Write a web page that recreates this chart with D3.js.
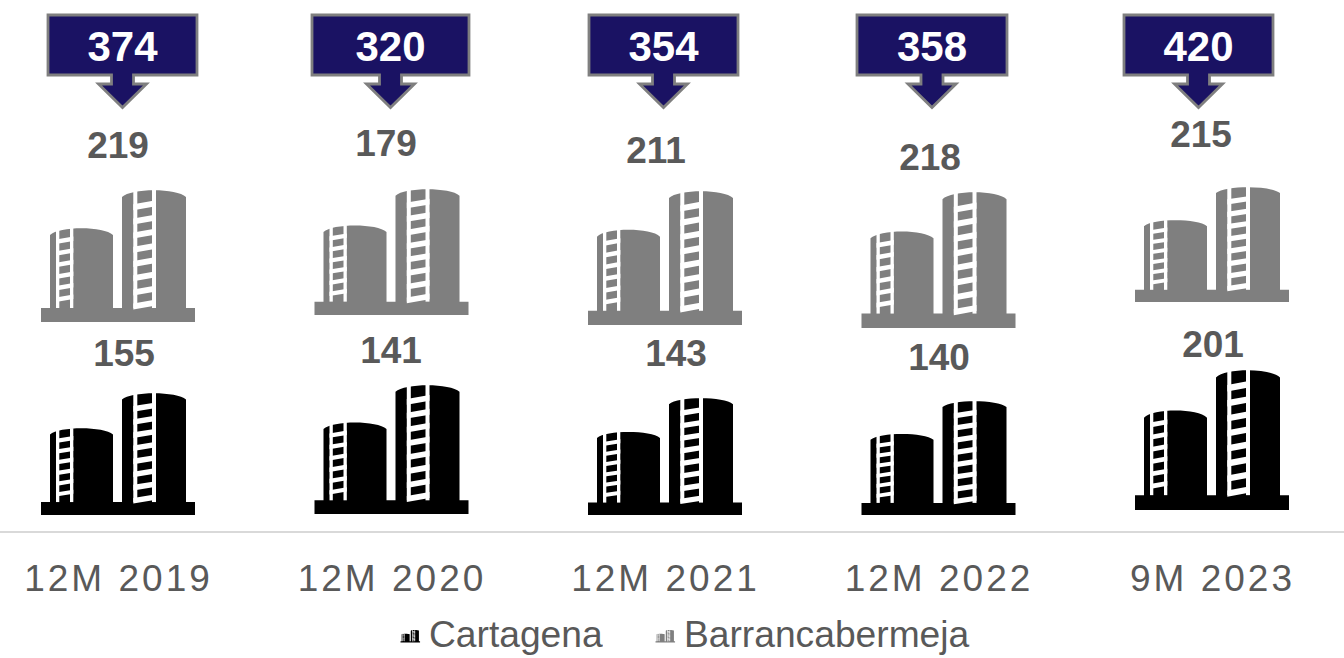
<!DOCTYPE html>
<html>
<head>
<meta charset="utf-8">
<script src="https://cdn.jsdelivr.net/npm/d3@7"></script>
<style>
  html, body { margin: 0; padding: 0; background: #fff; }
  svg { display: block; }
  text { font-family: "Liberation Sans", Arial, sans-serif; opacity: 0.999; }
</style>
</head>
<body>
<div id="viz"></div>
<script>
var periods = ['12M 2019', '12M 2020', '12M 2021', '12M 2022', '9M 2023'];
var totals = [374, 320, 354, 358, 420];
var barrancabermeja = [219, 179, 211, 218, 215];
var cartagena = [155, 141, 143, 140, 201];

// the icons in the picture are hand placed and do not follow the values,
// so their extents are read off the picture (px)
var barrancaTop = [190, 189, 191, 192, 187];
var barrancaBase = [322, 315, 325, 328, 302];
var cartagenaTop = [393, 385, 398, 401, 370];
var cartagenaBase = [515, 514, 515, 515, 510];

// same for the labels and callouts
var barrancaLabel = [{x:118,y:145},{x:386,y:143},{x:656,y:150},{x:930,y:157},{x:1201,y:134}];
var cartagenaLabel = [{x:124,y:353},{x:391,y:350},{x:676,y:353},{x:939,y:357},{x:1213,y:344}];
var calloutX = [122.5, 390.5, 663.5, 932, 1198.5];
var calloutHalf = [74.5, 78.5, 74.5, 75, 74.5];

var width = 1344,
    height = 658;

var svg = d3.select('#viz').append('svg')
  .attr('width', width)
  .attr('height', height);

var x = d3.scalePoint()
  .domain(periods)
  .range([118, 1212]);

// icon, 154 x 132
var defs = svg.append('defs');
var icon = defs.append('g').attr('id', 'tanks');

icon.append('path')
  .attr('fill', 'currentColor')
  .attr('d', 'M9,45 C18,36 63,36 72,45 V119 H9 Z M81,7 C90,-2 136,-2 145,7 V119 H81 Z M0,118 H154 V132 H0 Z');

function ladder(x0, x1, railW, top, bottom, step, rungH, rise){
  var rails = icon.append('g').attr('fill', '#fff');
  rails.append('rect').attr('x', x0).attr('y', top).attr('width', railW).attr('height', bottom - top);
  rails.append('rect').attr('x', x1).attr('y', top).attr('width', railW).attr('height', bottom - top);
  d3.range(top + step, bottom, step).forEach(function(y){
    rails.append('path')
      .attr('d', 'M' + x0 + ',' + y + ' L' + (x1 + railW) + ',' + (y - rise) +
        ' V' + (y - rise + rungH) + ' L' + x0 + ',' + (y + rungH) + ' Z');
  });
}
ladder(92.3, 111, 4, 0, 118, 14.2, 6, 4);
ladder(15, 29, 3.3, 38, 118, 11.6, 4.5, 3);

function drawTanks(cls, color, tops, bases){
  svg.selectAll('.' + cls)
    .data(periods)
    .enter()
    .append('use')
    .attr('class', cls)
    .attr('href', '#tanks')
    .style('color', color)
    .attr('transform', function(d, i){
      return 'translate(' + (x(d) - 77) + ',' + tops[i] + ') scale(1,' + ((bases[i] - tops[i]) / 132) + ')';
    });
}
drawTanks('barranca', '#7f7f7f', barrancaTop, barrancaBase);
drawTanks('cartagena', '#000', cartagenaTop, cartagenaBase);

function drawValues(values, pos){
  svg.selectAll(null)
    .data(values)
    .enter()
    .append('text')
    .attr('x', function(d, i){ return pos[i].x; })
    .attr('y', function(d, i){ return pos[i].y; })
    .attr('dy', '0.35em')
    .attr('text-anchor', 'middle')
    .attr('font-size', 37)
    .attr('font-weight', 'bold')
    .attr('fill', '#595959')
    .text(function(d){ return d; });
}
drawValues(barrancabermeja, barrancaLabel);
drawValues(cartagena, cartagenaLabel);

// total callouts
svg.selectAll('.callout')
  .data(totals)
  .enter()
  .append('path')
  .attr('class', 'callout')
  .attr('fill', '#1a1263')
  .attr('stroke', '#7f7f7f')
  .attr('stroke-width', 2.8)
  .attr('d', function(d, i){
    var c = calloutX[i], h = calloutHalf[i];
    return 'M' + (c - h) + ',15 H' + (c + h) + ' V75 H' + (c + 11) + ' V84 H' + (c + 24) +
      ' L' + c + ',107.5 L' + (c - 24) + ',84 H' + (c - 11) + ' V75 H' + (c - h) + ' Z';
  });

svg.selectAll('.total')
  .data(totals)
  .enter()
  .append('text')
  .attr('class', 'total')
  .attr('x', function(d, i){ return calloutX[i]; })
  .attr('y', 46.5)
  .attr('dy', '0.35em')
  .attr('text-anchor', 'middle')
  .attr('font-size', 42)
  .attr('font-weight', 'bold')
  .attr('fill', '#fff')
  .text(function(d){ return d; });

// period axis
var axis = svg.append('g')
  .attr('transform', 'translate(0,532)')
  .call(d3.axisBottom(x).tickSize(0).tickPadding(32.5));
axis.select('.domain').remove();
axis.append('line')
  .attr('x1', 0).attr('x2', width)
  .attr('stroke', '#d9d9d9')
  .attr('stroke-width', 2);
axis.selectAll('.tick text')
  .attr('font-family', '"Liberation Sans", Arial, sans-serif')
  .attr('font-size', 37)
  .attr('letter-spacing', 3)
  .attr('fill', '#595959');

// legend
var legendItems = [
  {name: 'Cartagena', color: '#000', ix: 400.5, tx: 429},
  {name: 'Barrancabermeja', color: '#7f7f7f', ix: 655.5, tx: 684}
];
var legend = svg.selectAll('.legend')
  .data(legendItems)
  .enter()
  .append('g')
  .attr('class', 'legend');
legend.append('use')
  .attr('href', '#tanks')
  .style('color', function(d){ return d.color; })
  .attr('transform', function(d){ return 'translate(' + d.ix + ',630) scale(0.127,0.095)'; });
legend.append('text')
  .attr('x', function(d){ return d.tx; })
  .attr('y', 634)
  .attr('dy', '0.35em')
  .attr('font-size', 37.2)
  .attr('fill', '#595959')
  .text(function(d){ return d.name; });
</script>
</body>
</html>
